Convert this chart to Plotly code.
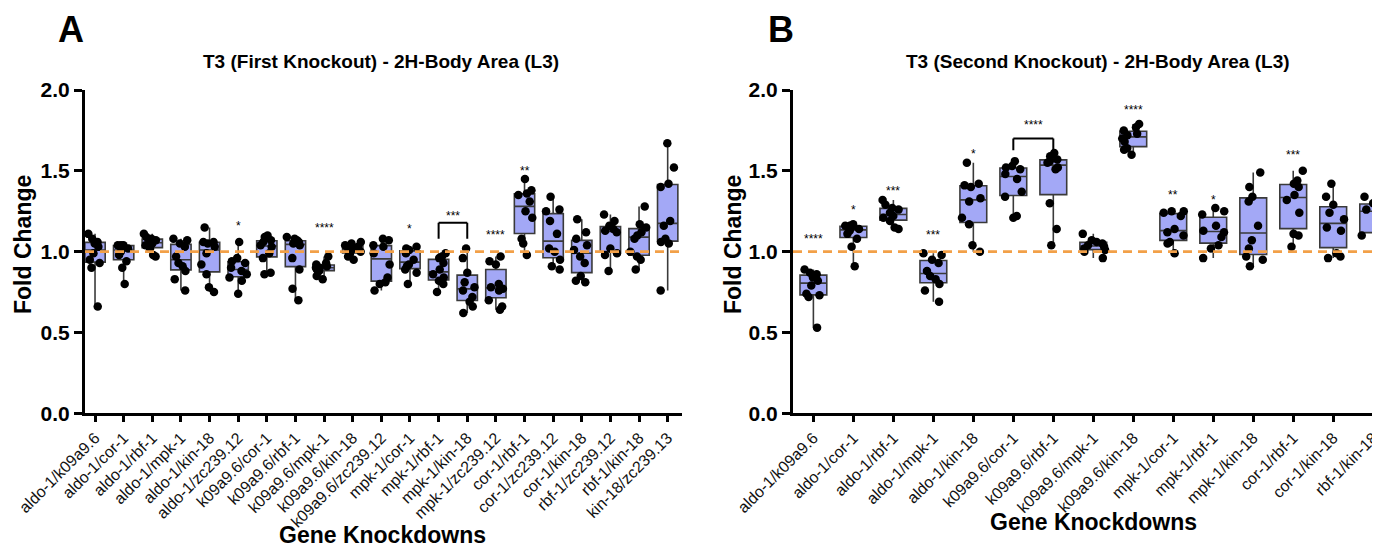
import numpy as np
import plotly.graph_objects as go

# ---------------- data ----------------
cats_A = ["aldo-1/k09a9.6", "aldo-1/cor-1", "aldo-1/rbf-1", "aldo-1/mpk-1", "aldo-1/kin-18",
          "aldo-1/zc239.12", "k09a9.6/cor-1", "k09a9.6/rbf-1", "k09a9.6/mpk-1", "k09a9.6/kin-18",
          "k09a9.6/zc239.12", "mpk-1/cor-1", "mpk-1/rbf-1", "mpk-1/kin-18", "mpk-1/zc239.12",
          "cor-1/rbf-1", "cor-1/zc239.12", "cor-1/kin-18", "rbf-1/zc239.12", "rbf-1/kin-18",
          "kin-18/zc239.13"]

vals_A = [
    [1.11, 1.08, 1.06, 1.05, 1.03, 0.99, 0.95, 0.93, 0.90, 0.66],
    [1.04, 1.04, 1.04, 1.03, 1.02, 1.00, 0.98, 0.94, 0.90, 0.80],
    [1.11, 1.09, 1.08, 1.07, 1.06, 1.05, 1.04, 1.02, 0.98, 0.97],
    [1.08, 1.07, 1.05, 1.03, 0.97, 0.93, 0.91, 0.88, 0.83, 0.76],
    [1.15, 1.06, 1.06, 1.05, 1.03, 0.99, 0.92, 0.86, 0.78, 0.75],
    [1.06, 0.96, 0.94, 0.93, 0.90, 0.88, 0.86, 0.84, 0.82, 0.74],
    [1.10, 1.09, 1.07, 1.06, 1.04, 1.03, 0.99, 0.96, 0.87, 0.86],
    [1.09, 1.08, 1.07, 1.06, 1.05, 1.04, 0.96, 0.89, 0.77, 0.70],
    [0.97, 0.93, 0.92, 0.91, 0.90, 0.90, 0.89, 0.88, 0.85, 0.83],
    [1.06, 1.05, 1.04, 1.03, 1.02, 1.01, 1.00, 0.99, 0.97, 0.95],
    [1.08, 1.07, 1.04, 1.03, 0.99, 0.92, 0.84, 0.81, 0.80, 0.76],
    [1.03, 1.02, 1.01, 0.99, 0.95, 0.92, 0.91, 0.89, 0.87, 0.80],
    [0.99, 0.97, 0.96, 0.93, 0.89, 0.86, 0.84, 0.82, 0.80, 0.75],
    [1.02, 0.96, 0.87, 0.81, 0.78, 0.76, 0.72, 0.69, 0.66, 0.62],
    [0.97, 0.94, 0.92, 0.80, 0.78, 0.77, 0.76, 0.70, 0.66, 0.64],
    [1.45, 1.38, 1.36, 1.35, 1.31, 1.25, 1.21, 1.08, 1.05, 0.98],
    [1.34, 1.26, 1.25, 1.19, 1.11, 1.02, 1.00, 0.95, 0.91, 0.89],
    [1.20, 1.12, 1.08, 1.04, 1.01, 0.97, 0.93, 0.85, 0.82, 0.81],
    [1.23, 1.19, 1.16, 1.14, 1.13, 1.12, 1.02, 0.99, 0.98, 0.88],
    [1.28, 1.17, 1.15, 1.12, 1.10, 1.08, 1.00, 0.97, 0.95, 0.89],
    [1.67, 1.52, 1.42, 1.40, 1.19, 1.16, 1.08, 1.06, 1.05, 0.76],
]

cats_B = ["aldo-1/k09a9.6", "aldo-1/cor-1", "aldo-1/rbf-1", "aldo-1/mpk-1", "aldo-1/kin-18",
          "k09a9.6/cor-1", "k09a9.6/rbf-1", "k09a9.6/mpk-1", "k09a9.6/kin-18", "mpk-1/cor-1",
          "mpk-1/rbf-1", "mpk-1/kin-18", "cor-1/rbf-1", "cor-1/kin-18", "rbf-1/kin-18"]

vals_B = [
    [0.89, 0.87, 0.86, 0.84, 0.82, 0.79, 0.74, 0.73, 0.72, 0.53],
    [1.17, 1.16, 1.16, 1.15, 1.14, 1.13, 1.11, 1.08, 1.03, 0.91],
    [1.32, 1.29, 1.27, 1.26, 1.24, 1.22, 1.21, 1.19, 1.15, 1.14],
    [0.99, 0.98, 0.95, 0.93, 0.88, 0.85, 0.83, 0.80, 0.76, 0.69],
    [1.55, 1.42, 1.41, 1.40, 1.33, 1.31, 1.21, 1.17, 1.04, 1.00],
    [1.56, 1.53, 1.52, 1.51, 1.48, 1.45, 1.37, 1.34, 1.22, 1.21],
    [1.61, 1.59, 1.57, 1.56, 1.55, 1.52, 1.51, 1.30, 1.14, 1.04],
    [1.11, 1.07, 1.06, 1.05, 1.04, 1.03, 1.02, 1.01, 1.00, 0.96],
    [1.79, 1.77, 1.75, 1.73, 1.72, 1.70, 1.68, 1.64, 1.63, 1.60],
    [1.25, 1.25, 1.24, 1.22, 1.14, 1.12, 1.10, 1.06, 1.05, 0.99],
    [1.27, 1.25, 1.23, 1.16, 1.13, 1.12, 1.09, 1.04, 1.02, 0.96],
    [1.49, 1.40, 1.34, 1.31, 1.16, 1.07, 1.02, 0.97, 0.95, 0.91],
    [1.50, 1.44, 1.42, 1.40, 1.35, 1.32, 1.24, 1.11, 1.10, 1.03],
    [1.42, 1.34, 1.29, 1.24, 1.20, 1.15, 1.13, 0.99, 0.97, 0.96],
    [1.46, 1.34, 1.30, 1.28, 1.26, 1.24, 1.17, 1.10, 1.09, 1.02],
]

y_ticks = [0.0, 0.5, 1.0, 1.5, 2.0]
y_ticktext = ["0.0", "0.5", "1.0", "1.5", "2.0"]

# significance marks: category index, label, height
sig_A_idx = [5, 8, 11, 14, 15]
sig_A_txt = ["*", "****", "*", "****", "**"]
sig_A_y = [1.168, 1.16, 1.154, 1.112, 1.509]
brk_A = dict(i0=12, i1=13, low=1.08, top=1.179, txt="***", ty=1.23)

sig_B_idx = [0, 1, 2, 3, 4, 8, 9, 10, 12]
sig_B_txt = ["****", "*", "***", "***", "*", "****", "**", "*", "***"]
sig_B_y = [1.092, 1.267, 1.387, 1.112, 1.618, 1.886, 1.36, 1.329, 1.612]
brk_B = dict(i0=5, i1=6, low=1.628, top=1.70, txt="****", ty=1.798)

ref_level = 1.0

# ---------------- style ----------------
W, H = 1380, 546
OFF = 8  # page body margin offset of the rendered figure
FONT = "Liberation Sans, Arial, Helvetica, sans-serif"
FILL = "#A3A8F6"
EDGE = "#3a3a3a"
ORANGE = "#F2A048"


def px(x):
    return (x - OFF) / W


def py(y):
    return 1 - (y - OFF) / H


y_dom = [py(413.3), py(90)]
xA_dom = [px(85), px(682)]
xB_dom = [px(793), px(1380)]

fig = go.Figure()


def add_panel(cats, vals, xa, ya, bw):
    arr = [np.array(v) for v in vals]
    q1 = [float(np.percentile(a, 25)) for a in arr]
    q3 = [float(np.percentile(a, 75)) for a in arr]
    med = [float(np.median(a)) for a in arr]
    lo = [float(a.min()) for a in arr]
    hi = [float(a.max()) for a in arr]
    fig.add_trace(go.Box(
        x=cats, q1=q1, median=med, q3=q3, lowerfence=lo, upperfence=hi,
        fillcolor=FILL, line=dict(color=EDGE, width=1.6), whiskerwidth=0,
        width=bw, boxpoints=False, xaxis=xa, yaxis=ya, showlegend=False,
        hoverinfo="skip"))
    xs = [c for c, v in zip(cats, vals) for _ in v]
    ys = [y for v in vals for y in v]
    fig.add_trace(go.Box(
        x=xs, y=ys, boxpoints="all", jitter=0.9, pointpos=0,
        fillcolor="rgba(0,0,0,0)", line=dict(color="rgba(0,0,0,0)", width=0),
        whiskerwidth=0, width=bw, marker=dict(color="black", size=8.5, line=dict(width=0)),
        xaxis=xa, yaxis=ya, showlegend=False, hoverinfo="y"))


add_panel(cats_A, vals_A, "x", "y", 0.71)
add_panel(cats_B, vals_B, "x2", "y2", 0.67)

axis_common = dict(showline=True, linewidth=3, linecolor="black", ticks="outside",
                   tickcolor="black", showgrid=False, zeroline=False, fixedrange=True,
                   automargin=False)

xcommon = dict(axis_common, type="category", tickangle=-45, ticklen=6, tickwidth=3,
               tickfont=dict(family=FONT, size=16, color="#111"))
ycommon = dict(axis_common, range=[0, 2.0], tickvals=y_ticks, ticktext=y_ticktext,
               ticklen=8, tickwidth=3,
               tickfont=dict(family=FONT, size=21, color="black", weight="bold"))

fig.update_layout(
    width=W, height=H,
    margin=dict(l=0, r=0, t=0, b=0, pad=0, autoexpand=False),
    paper_bgcolor="white", plot_bgcolor="white",
    boxmode="overlay",
    xaxis=dict(xcommon, domain=xA_dom, range=[-0.35, 20.5], anchor="y"),
    yaxis=dict(ycommon, domain=y_dom, anchor="x"),
    xaxis2=dict(xcommon, domain=xB_dom, range=[-0.51, 14.17], anchor="y2"),
    yaxis2=dict(ycommon, domain=y_dom, anchor="x2"),
)

shapes = []
for xr, yr in (("x", "y"), ("x2", "y2")):
    shapes.append(dict(type="line", xref=f"{xr} domain", yref=yr, x0=0, x1=1,
                       y0=ref_level, y1=ref_level, layer="above",
                       line=dict(color=ORANGE, width=2.6, dash="9px,6px")))

annotations = []


def star(xr, yr, x, y, t):
    annotations.append(dict(xref=xr, yref=yr, x=x, y=y - 0.012, text=t, showarrow=False,
                            yanchor="middle", xanchor="center",
                            font=dict(family=FONT, size=12, color="black")))


for i, t, y in zip(sig_A_idx, sig_A_txt, sig_A_y):
    star("x", "y", cats_A[i], y, t)
for i, t, y in zip(sig_B_idx, sig_B_txt, sig_B_y):
    star("x2", "y2", cats_B[i], y, t)

for b, xr, yr in ((brk_A, "x", "y"), (brk_B, "x2", "y2")):
    lw = dict(color="black", width=2)
    shapes.append(dict(type="line", xref=xr, yref=yr, x0=b["i0"], x1=b["i0"], y0=b["low"], y1=b["top"], line=lw))
    shapes.append(dict(type="line", xref=xr, yref=yr, x0=b["i1"], x1=b["i1"], y0=b["low"], y1=b["top"], line=lw))
    shapes.append(dict(type="line", xref=xr, yref=yr, x0=b["i0"], x1=b["i1"], y0=b["top"], y1=b["top"], line=lw))
    star(xr, yr, (b["i0"] + b["i1"]) / 2, b["ty"], b["txt"])


def label(text, x, y, size, angle=0, weight="bold"):
    annotations.append(dict(xref="paper", yref="paper", x=px(x), y=py(y), text=text,
                            showarrow=False, xanchor="center", yanchor="middle",
                            textangle=angle, borderpad=0,
                            font=dict(family=FONT, size=size, color="black", weight=weight)))


label("A", 71, 30, 36)
label("B", 781, 30, 36)
label("T3 (First Knockout) - 2H-Body Area (L3)", 381, 62, 19)
label("T3 (Second Knockout) - 2H-Body Area (L3)", 1098, 62, 19)
label("Fold Change", 23, 245, 23, angle=-90)
label("Fold Change", 733, 245, 23, angle=-90)
label("Gene Knockdowns", 382, 535, 23)
label("Gene Knockdowns", 1093, 522, 23)

fig.update_layout(shapes=shapes, annotations=annotations)

fig.write_html("out.html")
